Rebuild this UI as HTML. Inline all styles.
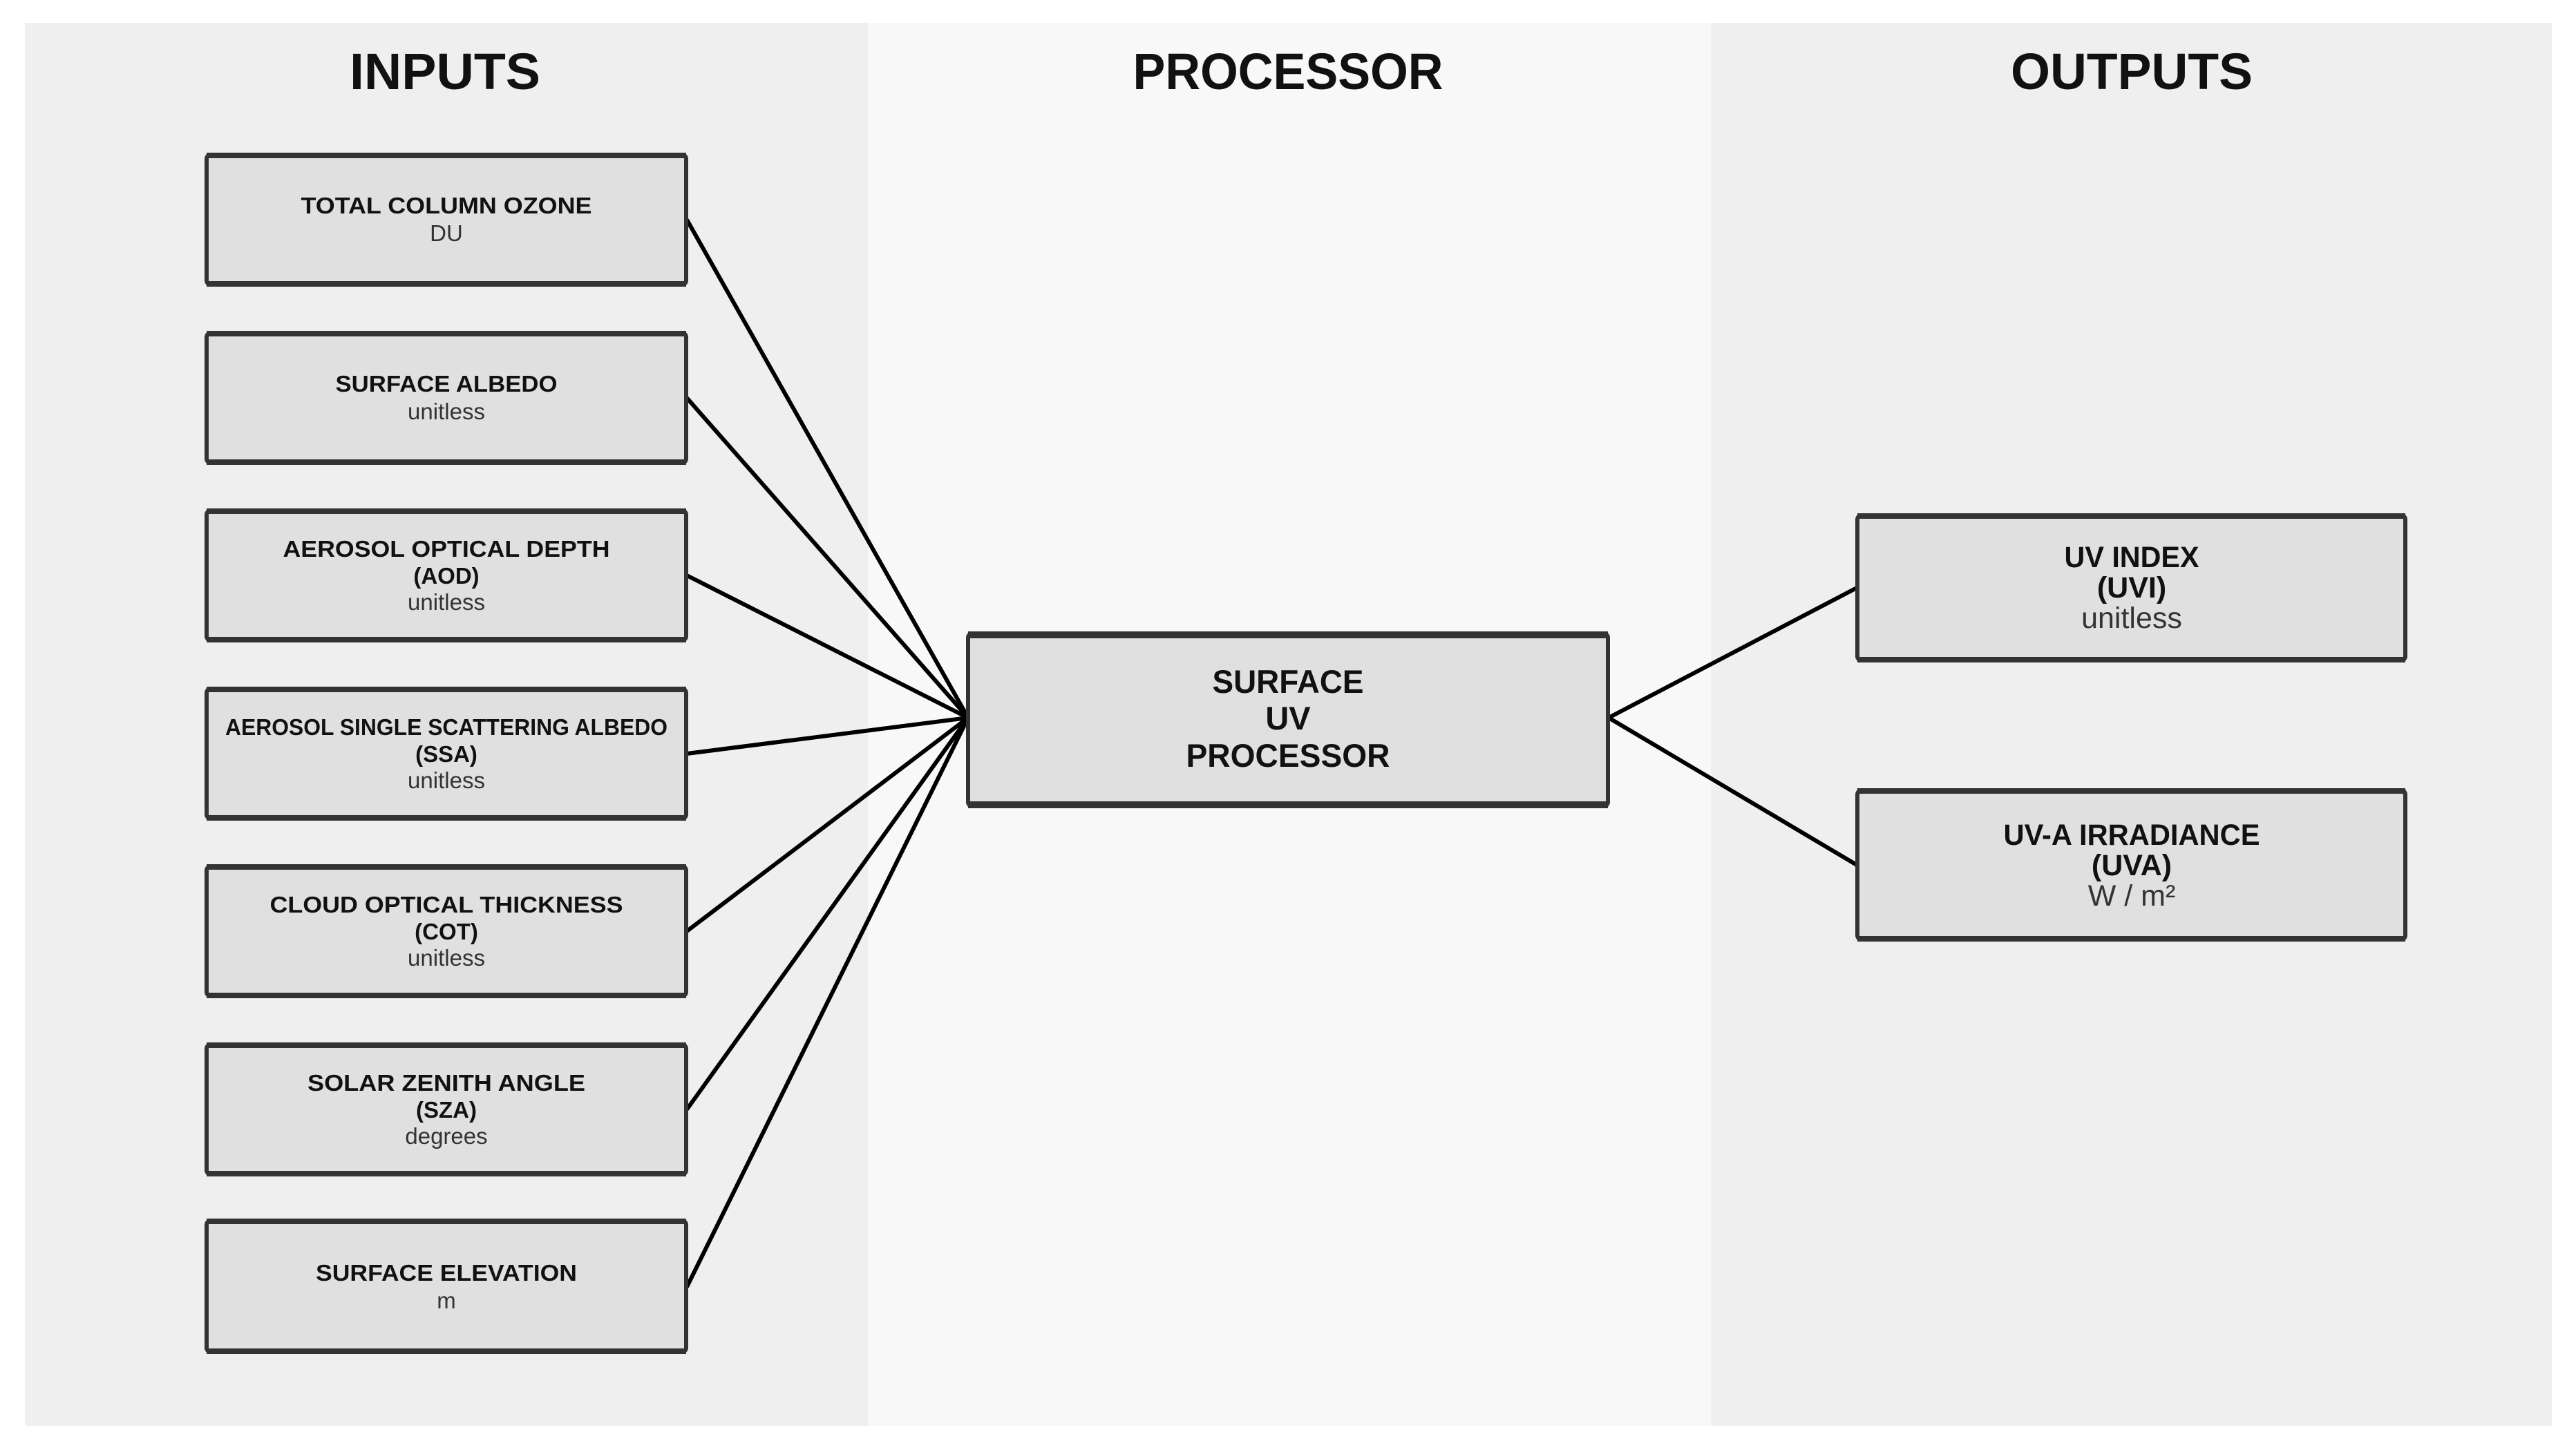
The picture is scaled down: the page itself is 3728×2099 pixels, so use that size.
<!DOCTYPE html>
<html><head><meta charset="utf-8"><style>
html,body{margin:0;padding:0;background:#fff;}
svg{display:block;}
</style></head><body>
<svg width="3728" height="2099" viewBox="0 0 3728 2099" xmlns="http://www.w3.org/2000/svg" font-family="Liberation Sans, sans-serif">
<rect x="0" y="0" width="3728" height="2099" fill="#ffffff"/>
<rect x="36" y="33" width="1220" height="2031" fill="#efefef"/>
<rect x="1256" y="33" width="1220" height="2031" fill="#f8f8f8"/>
<rect x="2476" y="33" width="1217" height="2031" fill="#efefef"/>

<g font-weight="bold" font-size="74" fill="#111" text-anchor="middle">
<text x="644" y="129" textLength="276" lengthAdjust="spacingAndGlyphs">INPUTS</text>
<text x="1864" y="129" textLength="449" lengthAdjust="spacingAndGlyphs">PROCESSOR</text>
<text x="3085" y="129" textLength="350" lengthAdjust="spacingAndGlyphs">OUTPUTS</text>
</g>

<g stroke="#000" stroke-width="6" fill="none">
<line x1="994" y1="318" x2="1401" y2="1039"/>
<line x1="994" y1="576" x2="1401" y2="1039"/>
<line x1="994" y1="833" x2="1401" y2="1039"/>
<line x1="994" y1="1091" x2="1401" y2="1039"/>
<line x1="994" y1="1348" x2="1401" y2="1039"/>
<line x1="994" y1="1606" x2="1401" y2="1039"/>
<line x1="994" y1="1863" x2="1401" y2="1039"/>
<line x1="2328" y1="1039" x2="2687" y2="851"/>
<line x1="2328" y1="1039" x2="2687" y2="1252"/>
</g>

<g fill="#e0e0e0" stroke="#333" stroke-width="6">
<rect x="299" y="224" width="694" height="188" rx="6"/>
<rect x="299" y="482" width="694" height="188" rx="6"/>
<rect x="299" y="739" width="694" height="188" rx="6"/>
<rect x="299" y="997" width="694" height="188" rx="6"/>
<rect x="299" y="1254" width="694" height="188" rx="6"/>
<rect x="299" y="1512" width="694" height="188" rx="6"/>
<rect x="299" y="1767" width="694" height="190" rx="6"/>
<rect x="1401" y="917" width="926" height="250" rx="6"/>
<rect x="2688" y="746" width="793" height="210" rx="6"/>
<rect x="2688" y="1144" width="793" height="216" rx="6"/>
</g>
<g fill="#333">
<rect x="299" y="221" width="694" height="8"/><rect x="299" y="407" width="694" height="8"/>
<rect x="299" y="479" width="694" height="8"/><rect x="299" y="665" width="694" height="8"/>
<rect x="299" y="736" width="694" height="8"/><rect x="299" y="922" width="694" height="8"/>
<rect x="299" y="994" width="694" height="8"/><rect x="299" y="1180" width="694" height="8"/>
<rect x="299" y="1251" width="694" height="8"/><rect x="299" y="1437" width="694" height="8"/>
<rect x="299" y="1509" width="694" height="8"/><rect x="299" y="1695" width="694" height="8"/>
<rect x="299" y="1764" width="694" height="8"/><rect x="299" y="1952" width="694" height="8"/>
<rect x="1401" y="914" width="926" height="10" /><rect x="1401" y="1160" width="926" height="10"/>
<rect x="2688" y="743" width="793" height="8"/><rect x="2688" y="951" width="793" height="8"/>
<rect x="2688" y="1141" width="793" height="8"/><rect x="2688" y="1355" width="793" height="8"/>
</g>

<g text-anchor="middle" fill="#111">
<g font-weight="bold" font-size="33">
<text x="646" y="309" textLength="421" lengthAdjust="spacingAndGlyphs">TOTAL COLUMN OZONE</text>
<text x="646" y="567" textLength="321" lengthAdjust="spacingAndGlyphs">SURFACE ALBEDO</text>
<text x="646" y="806" textLength="473" lengthAdjust="spacingAndGlyphs">AEROSOL OPTICAL DEPTH</text>
<text x="646" y="845">(AOD)</text>
<text x="646" y="1064" textLength="640" lengthAdjust="spacingAndGlyphs">AEROSOL SINGLE SCATTERING ALBEDO</text>
<text x="646" y="1103">(SSA)</text>
<text x="646" y="1321" textLength="511" lengthAdjust="spacingAndGlyphs">CLOUD OPTICAL THICKNESS</text>
<text x="646" y="1360">(COT)</text>
<text x="646" y="1579" textLength="402" lengthAdjust="spacingAndGlyphs">SOLAR ZENITH ANGLE</text>
<text x="646" y="1618">(SZA)</text>
<text x="646" y="1854" textLength="378" lengthAdjust="spacingAndGlyphs">SURFACE ELEVATION</text>
</g>
<g font-size="33" fill="#333">
<text x="646" y="349">DU</text>
<text x="646" y="607">unitless</text>
<text x="646" y="883">unitless</text>
<text x="646" y="1141">unitless</text>
<text x="646" y="1398">unitless</text>
<text x="646" y="1656">degrees</text>
<text x="646" y="1894">m</text>
</g>
<g font-weight="bold" font-size="47">
<text x="1864" y="1003" textLength="219" lengthAdjust="spacingAndGlyphs">SURFACE</text>
<text x="1864" y="1056">UV</text>
<text x="1864" y="1110" textLength="295" lengthAdjust="spacingAndGlyphs">PROCESSOR</text>
</g>
<g font-weight="bold" font-size="43">
<text x="3085" y="821" textLength="195" lengthAdjust="spacingAndGlyphs">UV INDEX</text>
<text x="3085" y="865">(UVI)</text>
<text x="3085" y="1223" textLength="371" lengthAdjust="spacingAndGlyphs">UV-A IRRADIANCE</text>
<text x="3085" y="1267">(UVA)</text>
</g>
<g font-size="43" fill="#333">
<text x="3085" y="909">unitless</text>
<text x="3085" y="1311">W / m²</text>
</g>
</g>
</svg>
</body></html>
